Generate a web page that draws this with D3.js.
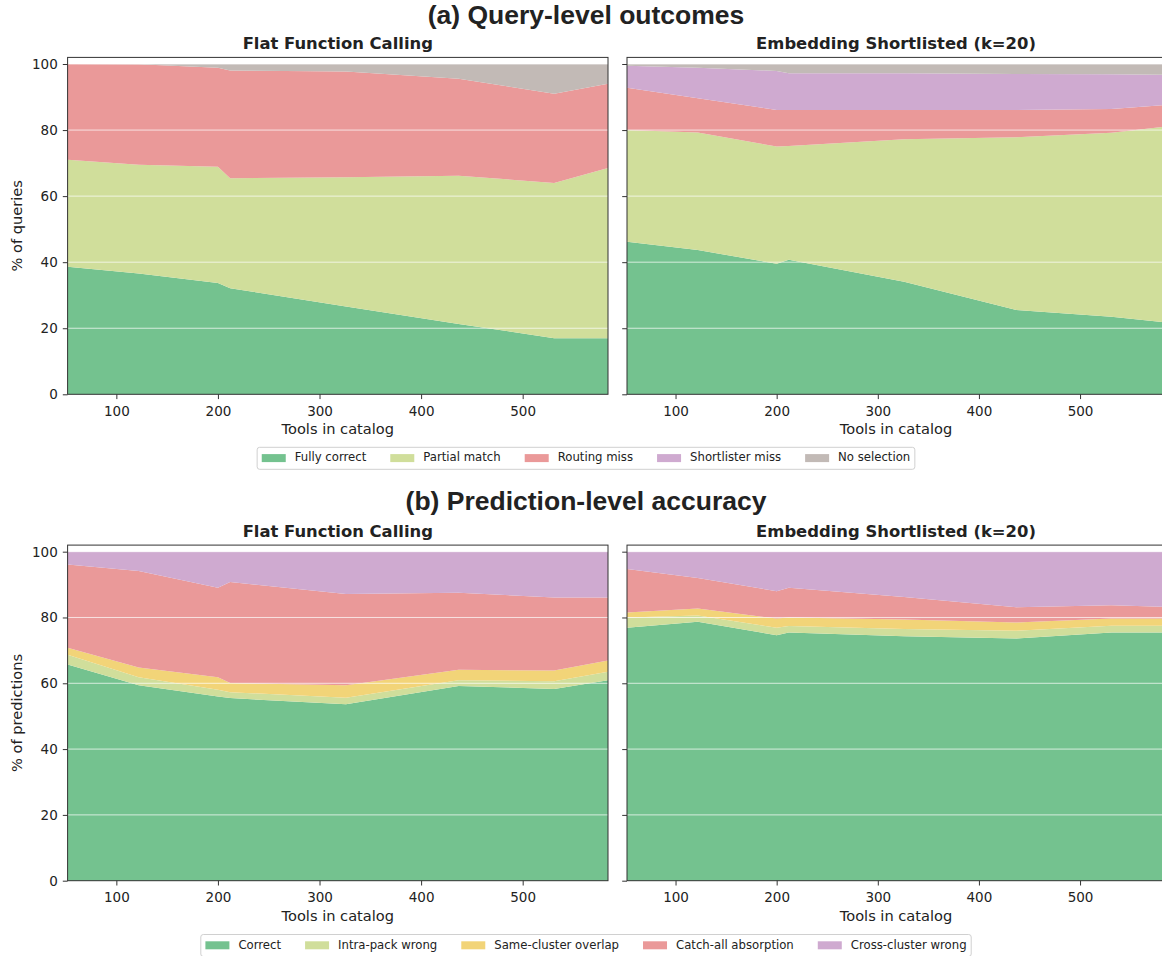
<!DOCTYPE html>
<html lang="en">
<head>
<meta charset="UTF-8">
<title>Query-level outcomes and prediction-level accuracy</title>
<style>
  html, body { margin: 0; padding: 0; background: #fff; }
  svg { display: block; }
  text { font-family: "DejaVu Sans", sans-serif; fill: #222; }
  .suptitle { font-family: "Liberation Sans", Arial, sans-serif; font-weight: bold; font-size: 26.5px; }
</style>
</head>
<body>
<script src="https://d3js.org/d3.v7.min.js"></script>
<script>
// tools in catalog (x positions of the measurements)
const toolCounts = [52, 122, 200, 212, 326, 437, 531, 584];

// (a) query-level outcome categories
const queryCats = ['Fully correct', 'Partial match', 'Routing miss', 'Shortlister miss', 'No selection'];
const queryColors = ['#74c28f', '#d0de9b', '#ea9999', '#cfaad0', '#c2bab6'];

// (b) prediction-level categories
const predCats = ['Correct', 'Intra-pack wrong', 'Same-cluster overlap', 'Catch-all absorption', 'Cross-cluster wrong'];
const predColors = ['#74c28f', '#d0de9b', '#f2d478', '#ea9999', '#cfaad0'];

// % of queries, one row per query category
const flatQuery = [
  [38.6, 36.6, 33.7, 32.1, 26.6, 21.3, 17.0, 17.0],
  [32.4, 32.9, 35.2, 33.3, 39.1, 44.9, 47.0, 51.5],
  [29.0, 30.4, 30.0, 32.6, 32.0, 29.3, 27.0, 25.5],
  [0, 0, 0, 0, 0, 0, 0, 0],
  [0.0, 0.1, 1.1, 2.0, 2.3, 4.5, 9.0, 6.0]
];
const embedQuery = [
  [46.2, 43.7, 39.5, 40.7, 34.1, 25.5, 23.5, 21.8],
  [33.8, 35.6, 35.5, 34.5, 43.1, 52.3, 55.7, 59.2],
  [12.8, 10.3, 11.1, 10.9, 8.9, 8.3, 7.2, 6.6],
  [6.7, 9.3, 11.8, 11.1, 11.1, 10.9, 10.5, 9.1],
  [0.5, 1.1, 2.1, 2.8, 2.8, 3.0, 3.1, 3.3]
];

// % of predictions, one row per prediction category
const flatPred = [
  [65.7, 59.4, 56.0, 55.5, 53.6, 59.2, 58.3, 60.9],
  [3.0, 2.4, 2.0, 1.8, 2.0, 1.7, 2.3, 2.6],
  [2.1, 3.0, 3.8, 2.8, 3.8, 3.2, 3.3, 3.4],
  [25.3, 29.3, 27.2, 30.7, 27.7, 23.4, 22.2, 19.2],
  [3.9, 5.9, 11.0, 9.2, 12.9, 12.5, 13.9, 13.9]
];
const embedPred = [
  [76.9, 78.7, 74.6, 75.4, 74.3, 73.6, 75.4, 75.4],
  [3.1, 1.9, 2.3, 2.0, 2.2, 2.4, 2.1, 2.1],
  [1.5, 2.1, 2.8, 2.6, 2.9, 2.5, 2.2, 2.2],
  [13.2, 9.3, 8.3, 9.0, 6.8, 4.6, 4.0, 3.5],
  [5.3, 8.0, 12.0, 11.0, 13.8, 16.9, 16.3, 16.8]
];

const xTicks = [100, 200, 300, 400, 500];
const yTicks = [0, 20, 40, 60, 80, 100];

const width = 1162;
const height = 956;
const figCenter = 586;

const svg = d3.select('body')
  .append('svg')
  .attr('width', width)
  .attr('height', height);

const cols = [{ x0: 67.6, x1: 608 }, { x0: 627, x1: 1165 }];
const rows = [{ top: 57.4, bottom: 394.3 }, { top: 545.1, bottom: 880.7 }];

function drawPanel(col, row, series, colors, title, yLabel) {
  const x = d3.scaleLinear().domain([52, 584]).range([col.x0, col.x1]);
  const y = d3.scaleLinear().domain([0, 102]).range([row.bottom, row.top]);

  const table = toolCounts.map((t, i) => {
    const d = { tools: t };
    series.forEach((s, k) => { d[k] = s[i]; });
    return d;
  });
  const stacked = d3.stack().keys(d3.range(series.length))(table);

  const area = d3.area()
    .x(d => x(d.data.tools))
    .y0(d => y(d[0]))
    .y1(d => y(d[1]));

  const g = svg.append('g');

  g.selectAll('path.layer')
    .data(stacked)
    .enter()
    .append('path')
    .attr('class', 'layer')
    .attr('d', area)
    .attr('fill', (d, i) => colors[i]);

  // white grid lines on top of the areas
  g.selectAll('line.grid')
    .data(yTicks.slice(1))
    .enter()
    .append('line')
    .attr('x1', col.x0)
    .attr('x2', col.x1)
    .attr('y1', d => y(d))
    .attr('y2', d => y(d))
    .attr('stroke', '#fff')
    .attr('stroke-opacity', 0.7)
    .attr('stroke-width', 1);

  // frame
  g.append('rect')
    .attr('x', col.x0)
    .attr('y', row.top)
    .attr('width', col.x1 - col.x0)
    .attr('height', row.bottom - row.top)
    .attr('fill', 'none')
    .attr('stroke', '#333')
    .attr('stroke-width', 1);

  const xAxis = g.append('g')
    .attr('transform', `translate(0,${row.bottom})`)
    .call(d3.axisBottom(x).tickValues(xTicks).tickSize(4.8).tickPadding(7));
  const yAxis = g.append('g')
    .attr('transform', `translate(${col.x0},0)`)
    .call(d3.axisLeft(y).tickValues(yTicks).tickSize(4.8).tickPadding(5)
      .tickFormat(yLabel ? d3.format('d') : () => ''));

  [xAxis, yAxis].forEach(a => {
    a.select('.domain').remove();
    a.selectAll('line').attr('stroke', '#333');
    a.selectAll('text').attr('font-size', 13.5).attr('fill', '#222')
      .attr('font-family', '"DejaVu Sans", sans-serif');
  });

  g.append('text')
    .attr('x', (col.x0 + col.x1) / 2)
    .attr('y', row.top - 8)
    .attr('text-anchor', 'middle')
    .attr('font-weight', 'bold')
    .attr('font-size', 16.4)
    .text(title);

  g.append('text')
    .attr('x', (col.x0 + col.x1) / 2)
    .attr('y', row.bottom + 40)
    .attr('text-anchor', 'middle')
    .attr('font-size', 14.6)
    .text('Tools in catalog');

  if (yLabel) {
    g.append('text')
      .attr('transform', `translate(22,${(row.top + row.bottom) / 2}) rotate(-90)`)
      .attr('text-anchor', 'middle')
      .attr('font-size', 14.6)
      .text(yLabel);
  }
}

function drawLegend(cats, colors, top) {
  const fs = 11.7;
  const g = svg.append('g');
  const box = g.append('rect');
  const items = g.selectAll('g.item')
    .data(cats)
    .enter()
    .append('g')
    .attr('class', 'item');

  items.append('rect')
    .attr('width', 24)
    .attr('height', 8)
    .attr('y', 6.8)
    .attr('fill', (d, i) => colors[i]);
  items.append('text')
    .attr('x', 33)
    .attr('y', 14.2)
    .attr('font-size', fs)
    .text(d => d);

  // lay out columns one after the other
  let cursor = 4.6;
  items.each(function () {
    const w = d3.select(this).select('text').node().getComputedTextLength();
    d3.select(this).attr('transform', `translate(${cursor},0)`);
    cursor += 33 + w + 24;
  });
  const boxW = cursor - 24 + 4.6;
  const left = figCenter - boxW / 2;
  g.attr('transform', `translate(${left},${top})`);

  box.attr('width', boxW)
    .attr('height', 22)
    .attr('rx', 2.5)
    .attr('fill', '#fff')
    .attr('stroke', '#d0d0d0')
    .attr('stroke-width', 1);
}

svg.append('text')
  .attr('class', 'suptitle')
  .attr('x', figCenter)
  .attr('y', 24)
  .attr('text-anchor', 'middle')
  .text('(a) Query-level outcomes');

drawPanel(cols[0], rows[0], flatQuery, queryColors, 'Flat Function Calling', '% of queries');
drawPanel(cols[1], rows[0], embedQuery, queryColors, 'Embedding Shortlisted (k=20)', null);
drawLegend(queryCats, queryColors, 447.3);

svg.append('text')
  .attr('class', 'suptitle')
  .attr('x', figCenter)
  .attr('y', 510)
  .attr('text-anchor', 'middle')
  .text('(b) Prediction-level accuracy');

drawPanel(cols[0], rows[1], flatPred, predColors, 'Flat Function Calling', '% of predictions');
drawPanel(cols[1], rows[1], embedPred, predColors, 'Embedding Shortlisted (k=20)', null);
drawLegend(predCats, predColors, 934.5);
</script>
</body>
</html>
